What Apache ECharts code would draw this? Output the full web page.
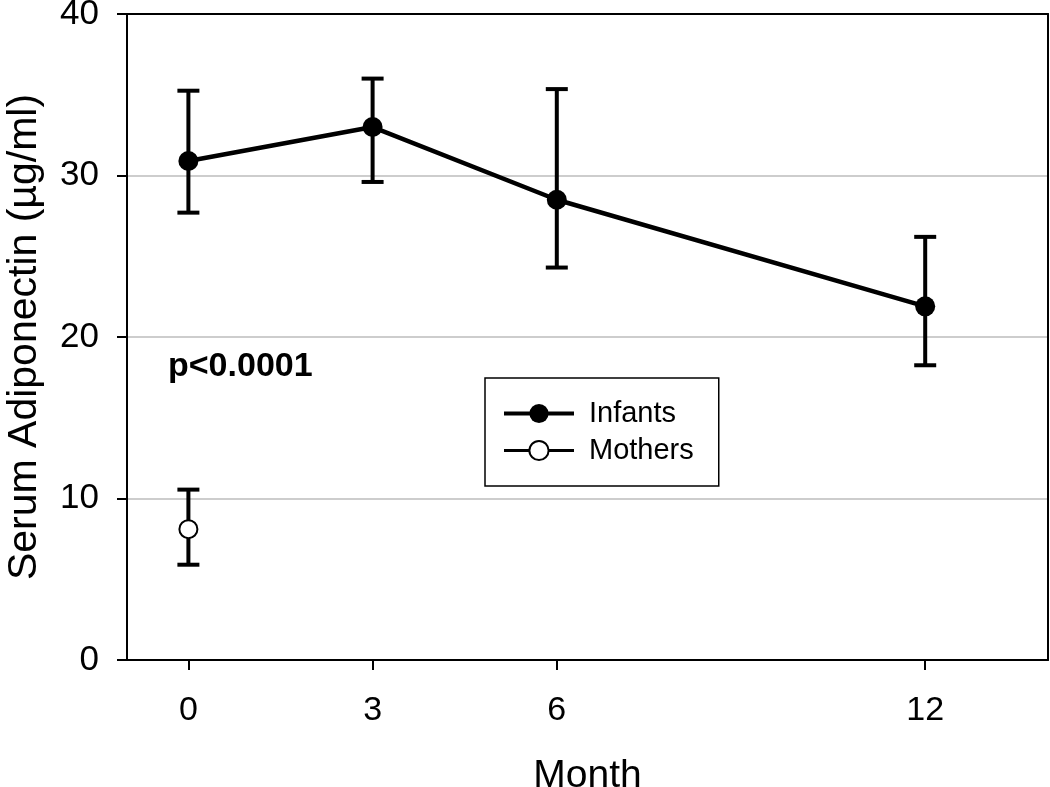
<!DOCTYPE html>
<html>
<head>
<meta charset="utf-8">
<script src="https://cdn.jsdelivr.net/npm/echarts@6/dist/echarts.min.js"></script>
<style>
html,body{margin:0;padding:0;background:#fff;}
#chart{width:1050px;height:787px;}
</style>
</head>
<body>
<div id="chart"></div>
<script>
// ---- data ----
var months = [0, 3, 6, 12];
var infantMean = [30.9, 33.0, 28.5, 21.9];
var infantLow = [27.7, 29.6, 24.3, 18.25];
var infantHigh = [35.25, 36.0, 35.35, 26.2];

var motherMonths = [0];
var motherMean = [8.1];
var motherLow = [5.9];
var motherHigh = [10.55];

var xTickValues = [0, 3, 6, 12];

var xName = 'Month';
var yName = 'Serum Adiponectin (\u00B5g/ml)';
var pText = 'p<0.0001';

// ---- build ----
function pairs(xs, ys) { return xs.map(function (x, i) { return [x, ys[i]]; }); }
function triples(xs, lo, hi) { return xs.map(function (x, i) { return [x, lo[i], hi[i]]; }); }

var FONT = '"Liberation Sans", Arial, sans-serif';

function errorRender(params, api) {
  var x = api.value(0);
  var lo = api.coord([x, api.value(1)]);
  var hi = api.coord([x, api.value(2)]);
  var hw = 11;
  var st = { stroke: '#000', lineWidth: 4, lineCap: 'butt' };
  return {
    type: 'group',
    children: [
      { type: 'line', shape: { x1: lo[0], y1: lo[1], x2: hi[0], y2: hi[1] }, style: st },
      { type: 'line', shape: { x1: lo[0] - hw, y1: lo[1], x2: lo[0] + hw, y2: lo[1] }, style: st },
      { type: 'line', shape: { x1: hi[0] - hw, y1: hi[1], x2: hi[0] + hw, y2: hi[1] }, style: st }
    ]
  };
}

var frameAxisX = {
  type: 'value', min: -1, max: 14, position: 'top',
  axisLine: { show: true, onZero: false, lineStyle: { color: '#000', width: 2 } },
  axisTick: { show: false }, axisLabel: { show: false }, splitLine: { show: false }
};
var frameAxisY = {
  type: 'value', min: 0, max: 40, interval: 10, position: 'right',
  axisLine: { show: true, onZero: false, lineStyle: { color: '#000', width: 2 } },
  axisTick: { show: false }, axisLabel: { show: false }, splitLine: { show: false }
};

var chart = echarts.init(document.getElementById('chart'), null, { renderer: 'canvas' });
chart.setOption({
  animation: false,
  backgroundColor: '#fff',
  grid: {
    left: 127, right: 2, top: 14, bottom: 127,
    outerBoundsMode: 'none', containLabel: false, show: false
  },
  xAxis: [{
    type: 'value', min: -1, max: 14,
    name: xName, nameLocation: 'middle', nameGap: 97,
    nameTextStyle: { fontFamily: FONT, fontSize: 39, color: '#000' },
    axisLine: { show: true, onZero: false, lineStyle: { color: '#000', width: 2 } },
    axisTick: { show: true, customValues: xTickValues, length: 10, lineStyle: { color: '#000', width: 2 } },
    axisLabel: { customValues: xTickValues, margin: 34, fontFamily: FONT, fontSize: 34, color: '#000' },
    splitLine: { show: false }
  }, frameAxisX],
  yAxis: [{
    type: 'value', min: 0, max: 40, interval: 10,
    name: yName, nameLocation: 'middle', nameGap: 82,
    nameTextStyle: { fontFamily: FONT, fontSize: 41, color: '#000' },
    axisLine: { show: true, onZero: false, lineStyle: { color: '#000', width: 2 } },
    axisTick: { show: true, length: 10, lineStyle: { color: '#000', width: 2 } },
    axisLabel: { margin: 28, fontFamily: FONT, fontSize: 35, color: '#000' },
    splitLine: { show: true, lineStyle: { color: '#bdbdbd', width: 1.5 } }
  }, frameAxisY],
  legend: {
    orient: 'vertical', left: 485, top: 378,
    padding: [21, 25, 21, 17],
    itemGap: 8, itemWidth: 70, itemHeight: 24,
    borderColor: '#000', borderWidth: 1.5, backgroundColor: '#fff',
    textStyle: { fontFamily: FONT, fontSize: 29, color: '#000', padding: [0, 0, 0, 10] },
    data: [
      { name: 'Infants', lineStyle: { width: 4 } },
      { name: 'Mothers', lineStyle: { width: 3 } }
    ]
  },
  graphic: [{
    type: 'text', left: 168, top: 350,
    style: { text: pText, font: 'bold 34px ' + FONT, fill: '#000' }
  }],
  series: [
    {
      name: 'InfantsErr', type: 'custom', z: 1,
      renderItem: errorRender, data: triples(months, infantLow, infantHigh)
    },
    {
      name: 'MothersErr', type: 'custom', z: 1,
      renderItem: errorRender, data: triples(motherMonths, motherLow, motherHigh)
    },
    {
      name: 'Infants', type: 'line', z: 3,
      data: pairs(months, infantMean),
      symbol: 'circle', symbolSize: 20,
      lineStyle: { color: '#000', width: 4.5 },
      itemStyle: { color: '#000', borderColor: '#000', borderWidth: 0 }
    },
    {
      name: 'Mothers', type: 'line', z: 3,
      data: pairs(motherMonths, motherMean),
      symbol: 'circle', symbolSize: 18,
      lineStyle: { color: '#000', width: 3 },
      itemStyle: { color: '#fff', borderColor: '#000', borderWidth: 2 }
    }
  ]
});
</script>
</body>
</html>
